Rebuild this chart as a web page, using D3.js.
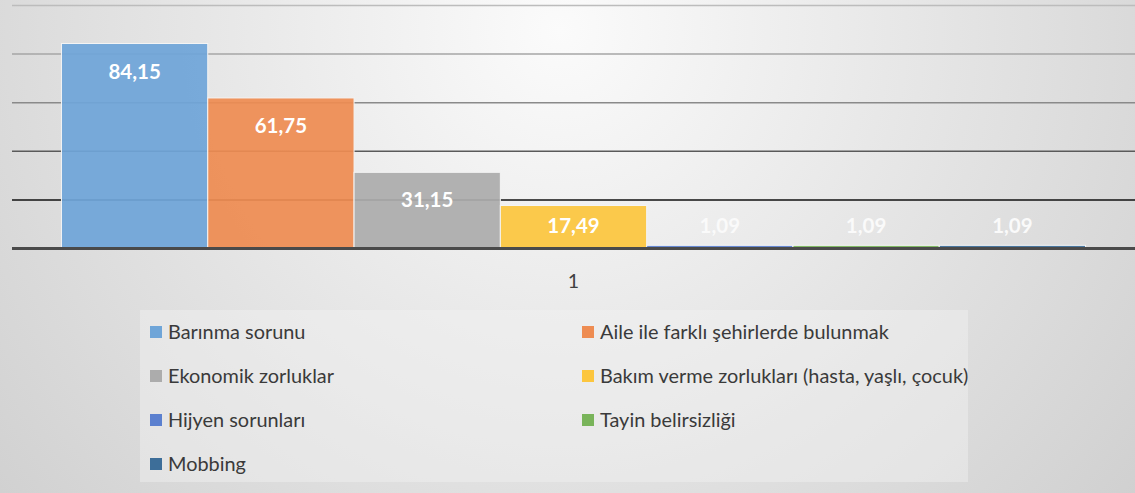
<!DOCTYPE html>
<html>
<head>
<meta charset="utf-8">
<script src="https://cdn.jsdelivr.net/npm/d3@7"></script>
<style>
  body { margin: 0; background: #e6e6e6; }
  svg { display: block; }
</style>
</head>
<body>
<svg id="chart" width="1135" height="493"></svg>
<script>
// data
const categories = ["Barınma sorunu", "Aile ile farklı şehirlerde bulunmak", "Ekonomik zorluklar",
  "Bakım verme zorlukları (hasta, yaşlı, çocuk)", "Hijyen sorunları", "Tayin belirsizliği", "Mobbing"];
const values = [84.15, 61.75, 31.15, 17.49, 1.09, 1.09, 1.09];
const colors = ["#6fa5d8", "#ee8c52", "#acacac", "#fcc63e", "#5b80cf", "#79b45a", "#3d6e99"];
const groupLabels = ["1"];
const yTicks = [0, 20, 40, 60, 80, 100];
const gridColors = ["#4a4a4a", "#111111", "#5a5a5a", "#8a8a8a", "#a6a6a6", "#bcbcbc"];

let svg = d3.select("#chart");
let width = 1135, height = 493;
let plotLeft = 12, plotRight = 1135, plotTop = 5, plotBottom = 248;

// background gradient
let defs = svg.append("defs");
let grad = defs.append("radialGradient")
  .attr("id", "bg")
  .attr("gradientUnits", "userSpaceOnUse")
  .attr("cx", 560).attr("cy", 30).attr("r", 760);
grad.append("stop").attr("offset", "0%").attr("stop-color", "#fbfbfb");
grad.append("stop").attr("offset", "100%").attr("stop-color", "#cfcfcf");

svg.append("rect")
  .attr("width", width).attr("height", height)
  .attr("fill", "url(#bg)");

let y = d3.scaleLinear()
  .domain([0, 100])
  .range([plotBottom, plotTop]);

let x0 = d3.scaleBand()
  .domain(groupLabels)
  .range([plotLeft, plotRight])
  .paddingInner(0)
  .paddingOuter(0.0483);

let x1 = d3.scaleBand()
  .domain(categories)
  .range([0, x0.bandwidth()])
  .padding(0);

// gridlines
svg.append("g").selectAll("line")
  .data(yTicks.slice(1))
  .enter().append("line")
  .attr("x1", plotLeft)
  .attr("x2", plotRight)
  .attr("y1", d => y(d) + 0.5)
  .attr("y2", d => y(d) + 0.5)
  .style("stroke", (d, i) => gridColors[i + 1])
  .style("stroke-width", 1.5);

// bars
let g = svg.append("g")
  .attr("transform", "translate(" + x0(groupLabels[0]) + ",0)");

g.selectAll("rect")
  .data(values)
  .enter().append("rect")
  .attr("x", (d, i) => x1(categories[i]))
  .attr("y", d => y(d))
  .attr("width", x1.bandwidth())
  .attr("height", d => y(0) - y(d))
  .attr("fill", (d, i) => colors[i])
  .attr("fill-opacity", 0.93)
  .style("stroke", "#f4f4f4")
  .style("stroke-width", 1);

// value labels
g.selectAll("text")
  .data(values)
  .enter().append("text")
  .attr("x", (d, i) => x1(categories[i]) + x1.bandwidth() / 2)
  .attr("y", d => Math.min(y(d) + 28, y(0) - 22))
  .attr("dy", "0.35em")
  .text(d => d3.format(".2f")(d).replace(".", ","))
  .style("text-anchor", "middle")
  .style("fill", d => d > 5 ? "#ffffff" : "#fafafa")
  .style("font-family", "Lato, 'Open Sans', sans-serif")
  .style("font-weight", "bold")
  .style("font-size", "20.5px");

// baseline
svg.append("line")
  .attr("x1", plotLeft)
  .attr("x2", plotRight)
  .attr("y1", y(0) + 0.5)
  .attr("y2", y(0) + 0.5)
  .style("stroke", "#4a4a4a")
  .style("stroke-width", 3);

// category label
svg.append("text")
  .attr("x", x0(groupLabels[0]) + x0.bandwidth() / 2)
  .attr("y", 281)
  .attr("dy", "0.35em")
  .text(groupLabels[0])
  .style("text-anchor", "middle")
  .style("fill", "#404040")
  .style("font-family", "Lato, 'Open Sans', sans-serif")
  .style("font-size", "19.5px");

// legend
svg.append("rect")
  .attr("x", 140).attr("y", 310)
  .attr("width", 828).attr("height", 172)
  .attr("fill", "#f2f2f2")
  .attr("fill-opacity", 0.45);

let legend = svg.append("g").selectAll("g")
  .data(categories)
  .enter().append("g")
  .attr("transform", (d, i) => "translate(" + (i % 2 === 0 ? 150 : 582) + "," + (332 + Math.floor(i / 2) * 44) + ")");

legend.append("rect")
  .attr("x", 0).attr("y", -6)
  .attr("width", 12).attr("height", 12)
  .attr("fill", (d, i) => colors[i]);

legend.append("text")
  .attr("x", 18)
  .attr("y", 0)
  .attr("dy", "0.35em")
  .text(d => d)
  .style("fill", "#3a3a3a")
  .style("font-family", "Lato, 'Open Sans', sans-serif")
  .style("font-size", "19.9px");
</script>
</body>
</html>
